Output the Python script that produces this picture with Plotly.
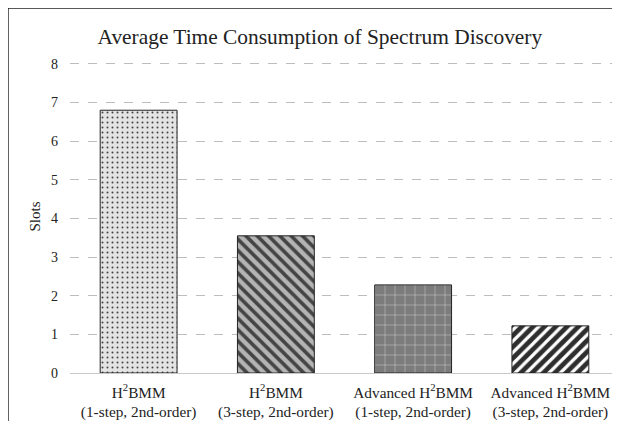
import plotly.graph_objects as go

# ---------------------------------------------------------------------------
# Data
# ---------------------------------------------------------------------------
CATEGORIES = [
    "H<sup>2</sup>BMM<br>(1-step, 2nd-order)",
    "H<sup>2</sup>BMM<br>(3-step, 2nd-order)",
    "Advanced H<sup>2</sup>BMM<br>(1-step, 2nd-order)",
    "Advanced H<sup>2</sup>BMM<br>(3-step, 2nd-order)",
]
SLOTS = [6.8, 3.55, 2.28, 1.22]
Y_TICKS = [0, 1, 2, 3, 4, 5, 6, 7, 8]

# ---------------------------------------------------------------------------
# Styling
# ---------------------------------------------------------------------------
FONT = "Liberation Serif"
TEXT_COLOR = "#222222"
BAR_COLORS = ["#e4e4e4", "#b4b4b4", "#7c7c7c", "#2e2e2e"]
PATTERN_SHAPES = [".", "\\", "+", "/"]
PATTERN_FG = ["#555555", "#575757", "#555555", "#959595"]
PATTERN_SIZE = [5, 8, 10, 8]
PATTERN_SOLIDITY = [0.12, 0.45, 0.06, 0.4]

fig = go.Figure()
fig.add_trace(
    go.Bar(
        x=CATEGORIES,
        y=SLOTS,
        marker=dict(
            color=BAR_COLORS,
            line=dict(color="#222222", width=1),
            pattern=dict(
                shape=PATTERN_SHAPES,
                fgcolor=PATTERN_FG,
                fgopacity=1,
                size=PATTERN_SIZE,
                solidity=PATTERN_SOLIDITY,
                fillmode="overlay",
            ),
        ),
        width=0.56,
        showlegend=False,
    )
)

# the page sits 8px in from the window corner, so margins are shifted by 8px
fig.update_layout(
    width=620,
    height=421,
    paper_bgcolor="white",
    plot_bgcolor="white",
    margin=dict(l=62, r=9, t=52, b=56),
    font=dict(family=FONT, size=13, color=TEXT_COLOR),
    title=dict(
        text="Average Time Consumption of Spectrum Discovery",
        x=0.503,
        xanchor="center",
        y=0.932,
        yanchor="middle",
        font=dict(family=FONT, size=21.4, color=TEXT_COLOR),
    ),
    shapes=[
        dict(type="line", xref="paper", yref="paper", x0=-0.113, x1=-0.113,
             y0=1.166, y1=-0.3, line=dict(color="#222222", width=1.5)),
        dict(type="line", xref="paper", yref="paper", x0=-0.113, x1=1.05,
             y0=1.166, y1=1.166, line=dict(color="#222222", width=1.5)),
    ],
)
fig.update_yaxes(
    range=[0, 8.1],
    tickvals=Y_TICKS,
    showgrid=True,
    gridcolor="#bdbdbd",
    griddash="dash",
    gridwidth=1.3,
    zeroline=False,
    showline=False,
    ticks="",
    ticklabelstandoff=11,
    tickfont=dict(family=FONT, size=14, color=TEXT_COLOR),
    title=dict(text="Slots", font=dict(family=FONT, size=15, color=TEXT_COLOR), standoff=6),
)
fig.update_xaxes(
    showline=True,
    linecolor="#c8c8c8",
    linewidth=1.3,
    showgrid=False,
    ticks="",
    ticklabelstandoff=5,
    tickfont=dict(family=FONT, size=15.3, color=TEXT_COLOR),
)

fig.write_html("out.html")
